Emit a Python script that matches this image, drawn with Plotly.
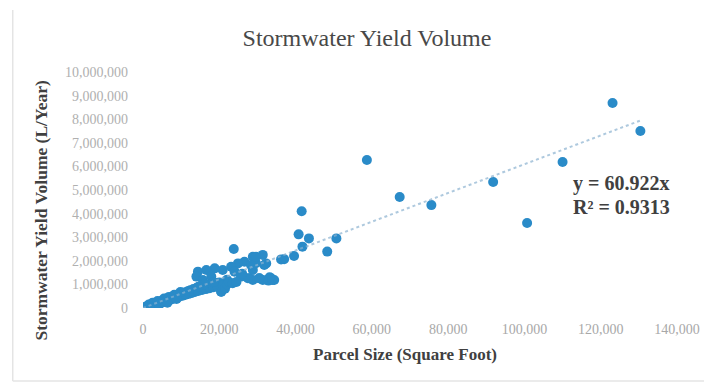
import plotly.graph_objects as go

# Parcel size (sq ft) and stormwater yield volume (L/year)
parcel_size = [
    123100, 130400, 110000, 100700, 91800, 75600, 67300, 58700,
    50700, 48300, 43500, 41600, 40800, 41800, 39600, 37000, 36200,
    23800, 34000, 33600, 34400, 32900, 33200,
    31400, 32300, 28800, 26600, 24900, 23100, 20900, 18800, 16600, 14400,
    28300, 25700, 27900, 30500, 24000, 19600, 20500, 14000, 15700, 17900,
    31400, 28800, 29600, 29600, 31800, 28800, 27500, 30500, 22000, 26000,
    500, 800, 1000, 1300, 1600, 2000, 2300, 2600, 3000, 3300, 3600, 4000,
    4300, 4600, 5000, 5300, 5600, 6000, 6300, 6600, 7000, 7300, 7600, 8000,
    8300, 8600, 9000, 9300, 9600, 10000, 10400, 10800, 11200, 11600, 12000,
    12400, 12800, 13200, 13600, 14000, 14500, 15000, 15500, 16000, 16500,
    17000, 17500, 18000, 18500, 19000, 19500, 20000, 20500, 21000, 21500,
    22000, 22500, 23500, 24500, 12000, 9500, 7000, 16000, 18500, 3000,
    5000, 11000, 14500, 1500, 2500, 3800, 5500, 6800, 8200, 9800, 1800,
    4200, 6400, 8800,
]
yield_volume = [
    8690000, 7500000, 6190000, 3600000, 5340000, 4360000, 4700000, 6270000,
    2950000, 2390000, 2950000, 4100000, 3120000, 2600000, 2200000, 2070000, 2060000,
    2500000, 1190000, 1260000, 1190000, 1160000, 1300000,
    2250000, 1890000, 2170000, 1960000, 1890000, 1750000, 1610000, 1680000, 1610000, 1540000,
    1820000, 1330000, 1260000, 1260000, 1540000, 1050000, 690000, 1330000, 1190000, 1330000,
    1190000, 1190000, 1900000, 2170000, 1820000, 1610000, 1260000, 1260000, 1200000, 1450000,
    30000, 60000, 40000, 90000, 70000, 130000, 100000, 170000, 140000, 210000, 160000, 250000,
    200000, 290000, 230000, 330000, 260000, 360000, 290000, 410000, 340000, 450000, 370000, 500000,
    410000, 540000, 450000, 580000, 490000, 620000, 520000, 660000, 560000, 700000, 600000,
    750000, 640000, 800000, 680000, 850000, 720000, 890000, 760000, 930000, 800000,
    980000, 840000, 1020000, 880000, 1060000, 900000, 1080000, 690000, 950000, 820000,
    1000000, 1100000, 1050000, 1100000, 720000, 540000, 420000, 1000000, 1100000, 190000,
    300000, 600000, 900000, 150000, 220000, 300000, 400000, 470000, 560000, 680000, 20000,
    130000, 220000, 380000,
]
trend_slope = 60.922
r_squared = 0.9313
x_ticks = [0, 20000, 40000, 60000, 80000, 100000, 120000, 140000]
y_ticks = [0, 1000000, 2000000, 3000000, 4000000, 5000000, 6000000, 7000000, 8000000, 9000000, 10000000]

SERIF = "Liberation Serif, Times New Roman, serif"
x_end = max(parcel_size)

# page has an 8px body margin; figure pixel = reference pixel - 8
OFF = 8
PL, PR, PT, PB = 143, 680, 72, 308  # plot area in reference pixels
W, H = 712 - OFF, 384 - OFF


def px(xr):
    return (xr - PL) / (PR - PL)


def py(yr):
    return (PB - yr) / (PB - PT)


fig = go.Figure()
fig.add_trace(go.Scatter(
    x=parcel_size, y=yield_volume, mode="markers",
    marker=dict(size=10, color="#2a8bc8", line=dict(width=0)),
    showlegend=False, hoverinfo="x+y",
))
fig.add_trace(go.Scatter(
    x=[0, x_end], y=[0, trend_slope * x_end], mode="lines",
    line=dict(color="rgba(140,178,208,0.7)", width=2, dash="dot"),
    showlegend=False, hoverinfo="skip",
))

fig.update_layout(
    width=W, height=H,
    margin=dict(l=PL - OFF, r=W - (PR - OFF), t=PT - OFF, b=H - (PB - OFF)),
    paper_bgcolor="white", plot_bgcolor="white",
    font=dict(family=SERIF),
    title=dict(text="Stormwater Yield Volume", x=(367 - OFF) / W, xanchor="center",
               y=1 - (38 - OFF) / H, yanchor="middle",
               font=dict(family=SERIF, size=24, color="#484848")),
    xaxis=dict(range=[0, 140000], tickvals=x_ticks, tickformat=",d",
               showgrid=False, zeroline=False, showline=False, ticks="",
               ticklabelstandoff=11,
               tickfont=dict(family=SERIF, size=14, color="#a8a8a8")),
    yaxis=dict(range=[0, 10000000], tickvals=y_ticks, tickformat=",d",
               showgrid=False, zeroline=False, showline=False, ticks="",
               ticklabelstandoff=14,
               tickfont=dict(family=SERIF, size=14, color="#b0b0b0")),
    annotations=[
        dict(text="<b>Parcel Size (Square Foot)</b>", xref="paper", yref="paper",
             x=px(406), y=py(354), xanchor="center", yanchor="middle",
             showarrow=False, font=dict(family=SERIF, size=17, color="#404040")),
        dict(text="<b>Stormwater Yield Volume (L/Year)</b>", xref="paper", yref="paper",
             x=px(40), y=py(210), xanchor="center", yanchor="middle",
             textangle=-90, showarrow=False,
             font=dict(family=SERIF, size=17.5, color="#404040")),
        dict(text=f"<b>y = {trend_slope}x</b>", xref="paper", yref="paper",
             x=px(573), y=py(183), xanchor="left", yanchor="middle",
             showarrow=False, font=dict(family=SERIF, size=20, color="#404040")),
        dict(text=f"<b>R² = {r_squared}</b>", xref="paper", yref="paper",
             x=px(573), y=py(207), xanchor="left", yanchor="middle",
             showarrow=False, font=dict(family=SERIF, size=20, color="#404040")),
    ],
    shapes=[
        dict(type="line", xref="paper", yref="paper",
             x0=px(12), x1=px(12), y0=py(10), y1=py(381),
             line=dict(color="#e4e4e4", width=1.5)),
        dict(type="line", xref="paper", yref="paper",
             x0=px(12), x1=px(712), y0=py(381), y1=py(381),
             line=dict(color="#e4e4e4", width=1.5)),
    ],
)

fig.write_html("out.html")
